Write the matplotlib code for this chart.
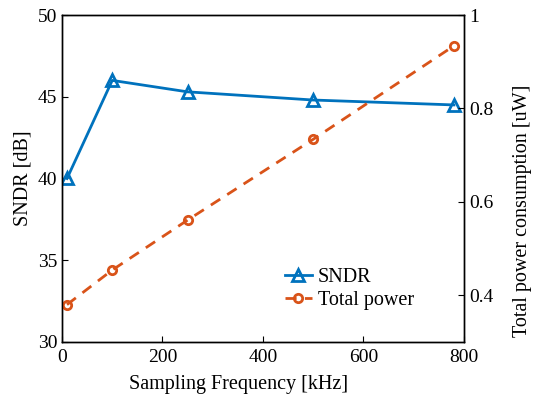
import matplotlib.pyplot as plt

plt.rcParams['font.family'] = ['Liberation Serif', 'DejaVu Serif']

freq = [10, 100, 250, 500, 780]
sndr = [40.0, 46.0, 45.3, 44.8, 44.5]
power = [0.38, 0.454, 0.561, 0.734, 0.934]

blue = '#0072BD'
orange = '#D95319'

fig = plt.figure(figsize=(5.33, 3.96), dpi=100)
ax1 = fig.add_axes([0.1163, 0.1364, 0.7542, 0.8257])
ax2 = ax1.twinx()

l1, = ax1.plot(freq, sndr, color=blue, linewidth=2, marker='^', markersize=9,
               markerfacecolor='none', markeredgewidth=2, label='SNDR')
l2, = ax2.plot(freq, power, color=orange, linewidth=2, linestyle=(0, (4, 3)),
               marker='o', markersize=6, markerfacecolor='none',
               markeredgewidth=2, label='Total power')

ax1.set_xlim(0, 800)
ax1.set_ylim(30, 50)
ax2.set_ylim(0.3, 1.0)
ax1.set_xticks([0, 200, 400, 600, 800])
ax1.set_yticks([30, 35, 40, 45, 50])
ax2.set_yticks([0.4, 0.6, 0.8, 1.0])
ax2.set_yticklabels(['0.4', '0.6', '0.8', '1'])

ax1.set_xlabel('Sampling Frequency [kHz]', fontsize=14.5)
ax1.xaxis.set_label_coords(0.44, -0.10)
ax1.set_ylabel('SNDR [dB]', fontsize=14.5, labelpad=4)
ax2.set_ylabel('Total power consumption [uW]', fontsize=14.5, va='center')
ax2.yaxis.set_label_coords(1.146, 0.40)

for ax in (ax1, ax2):
    ax.tick_params(direction='in', labelsize=14, length=4, width=0.8)
    for s in ax.spines.values():
        s.set_linewidth(1.0)
ax1.tick_params(axis='x', pad=5)

ax1.legend([l1, l2], ['SNDR', 'Total power'], loc='lower right',
           bbox_to_anchor=(0.91, 0.055), frameon=False, fontsize=14.5,
           handlelength=1.3, handletextpad=0.3, borderpad=0.2, labelspacing=0.2)

fig.savefig('out.png', dpi=100)
